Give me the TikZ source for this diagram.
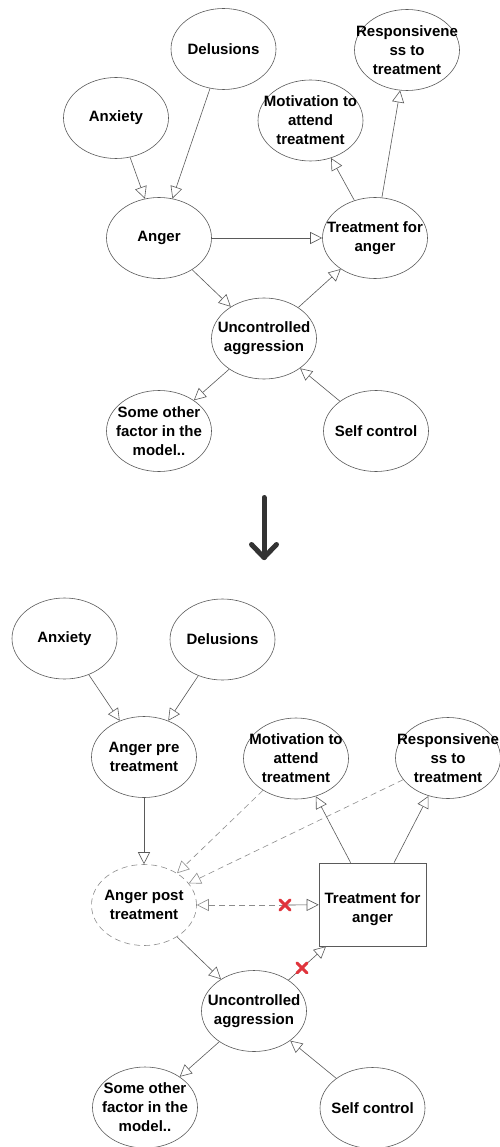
\documentclass[tikz,border=0pt]{standalone}
\usepackage{fontspec}
\setmainfont{Liberation Sans}
\usetikzlibrary{arrows.meta,shapes.geometric,shapes.misc}
\definecolor{edgegray}{HTML}{5A5A5A}
\definecolor{dashgray}{HTML}{8C8C8C}
\definecolor{crossred}{HTML}{E0343C}
\definecolor{bigdark}{HTML}{333333}
\begin{document}
\begin{tikzpicture}[x=1pt,y=-1pt,
  var/.style={ellipse, draw=edgegray, line width=0.6pt, fill=white,
    minimum width=105pt, minimum height=81pt, inner sep=0pt},
  latent/.style={var, draw=dashgray, dash pattern=on 6pt off 4pt},
  treatbox/.style={rectangle, draw=edgegray, line width=0.6pt, fill=white,
    minimum width=107pt, minimum height=83pt, inner sep=0pt},
  lbl/.style={font=\fontsize{15}{19}\selectfont\bfseries, align=center, inner sep=0pt},
  link/.style={draw=edgegray, line width=0.6pt,
    -{Triangle[open, length=12pt, width=12pt, fill=white]}},
  newlink/.style={link, draw=dashgray, dash pattern=on 6pt off 4pt},
  cutmark/.style={cross out, draw=crossred, line width=3pt, line cap=round,
    minimum size=7pt, inner sep=0pt},
  bigstroke/.style={draw=bigdark, line width=5pt, line cap=round, line join=round}
]
\useasboundingbox[fill=white] (0,0) rectangle (499,1147);

% ---------- original model ----------
\node[var] (dl1) at (223.5,49) {};
\node[var] (ax1) at (116,118) {};
\node[var] (rs1) at (407,50) {};
\node[var] (mt1) at (310.5,120.5) {};
\node[var] (an1) at (159,238) {};
\node[var] (tr1) at (375,238) {};
\node[var] (ua1) at (264,338.5) {};
\node[var] (so1) at (159,431) {};
\node[var] (sc1) at (376,431) {};

\node[lbl] (dl1t) at (dl1) {Delusions};
\node[lbl] (ax1t) at (ax1) {Anxiety};
\node[lbl] (rs1t) at (rs1) {Responsivene\\ss to\\treatment};
\node[lbl] (mt1t) at (mt1) {Motivation to\\attend\\treatment};
\node[lbl] (an1t) at (an1) {Anger};
\node[lbl] (tr1t) at (tr1) {Treatment for\\anger};
\node[lbl] (ua1t) at (ua1) {Uncontrolled\\aggression};
\node[lbl] (so1t) at (so1) {Some other\\factor in the\\model..};
\node[lbl] (sc1t) at (sc1) {Self control};

\draw[link] (ax1) -- (an1);
\draw[link] (dl1) -- (an1);
\draw[link] (an1) -- (tr1);
\draw[link] (an1) -- (ua1);
\draw[link] (ua1) -- (tr1);
\draw[link] (tr1) -- (mt1);
\draw[link] (tr1) -- (rs1);
\draw[link] (ua1) -- (so1);
\draw[link] (sc1) -- (ua1);

% ---------- transition arrow ----------
\coordinate (bigtop) at (264,497.5);
\coordinate (bigtip) at (264,557.5);
\draw[bigstroke] (bigtop) -- (bigtip);
\draw[bigstroke] ([shift={(-12.5,-13)}]bigtip) -- (bigtip) -- ([shift={(12.5,-13)}]bigtip);

% ---------- revised model ----------
\node[var] (ax2) at (64.5,638.5) {};
\node[var] (dl2) at (222.5,639.5) {};
\node[var] (ap2) at (144,757) {};
\node[var] (mt2) at (296,758.5) {};
\node[var] (rs2) at (448,758) {};
\node[latent] (aq2) at (144,905) {};
\node[treatbox] (tr2) at (372.5,904.5) {};
\node[var] (ua2) at (254,1011) {};
\node[var] (so2) at (145,1107.5) {};
\node[var] (sc2) at (372.5,1108) {};

\node[lbl] (ax2t) at (ax2) {Anxiety};
\node[lbl] (dl2t) at (dl2) {Delusions};
\node[lbl] (ap2t) at (ap2) {Anger pre\\treatment};
\node[lbl] (mt2t) at (mt2) {Motivation to\\attend\\treatment};
\node[lbl] (rs2t) at (rs2) {Responsivene\\ss to\\treatment};
\node[lbl] (aq2t) at (aq2) {Anger post\\treatment};
\node[lbl] (tr2t) at ([yshift=-5]tr2) {Treatment for\\anger};
\node[lbl] (ua2t) at (ua2) {Uncontrolled\\aggression};
\node[lbl] (so2t) at (so2) {Some other\\factor in the\\model..};
\node[lbl] (sc2t) at (sc2) {Self control};

\draw[link] (ax2) -- (ap2);
\draw[link] (dl2) -- (ap2);
\draw[link] (ap2) -- (aq2);
\draw[newlink] (mt2) -- (aq2);
\draw[newlink] (rs2) -- (aq2);
\draw[link] (tr2) -- (mt2);
\draw[link] (tr2) -- (rs2);

\coordinate (cut1) at (285,905);
\draw[newlink] (cut1) -- (aq2);
\draw[link] (cut1) -- (tr2);
\node[cutmark] (cut1m) at (cut1) {};

\draw[link] (aq2) -- (ua2);
\draw[link] (ua2) -- node[cutmark, pos=0.36] (cut2m) {} (tr2);
\draw[link] (ua2) -- (so2);
\draw[link] (sc2) -- (ua2);
\end{tikzpicture}
\end{document}
